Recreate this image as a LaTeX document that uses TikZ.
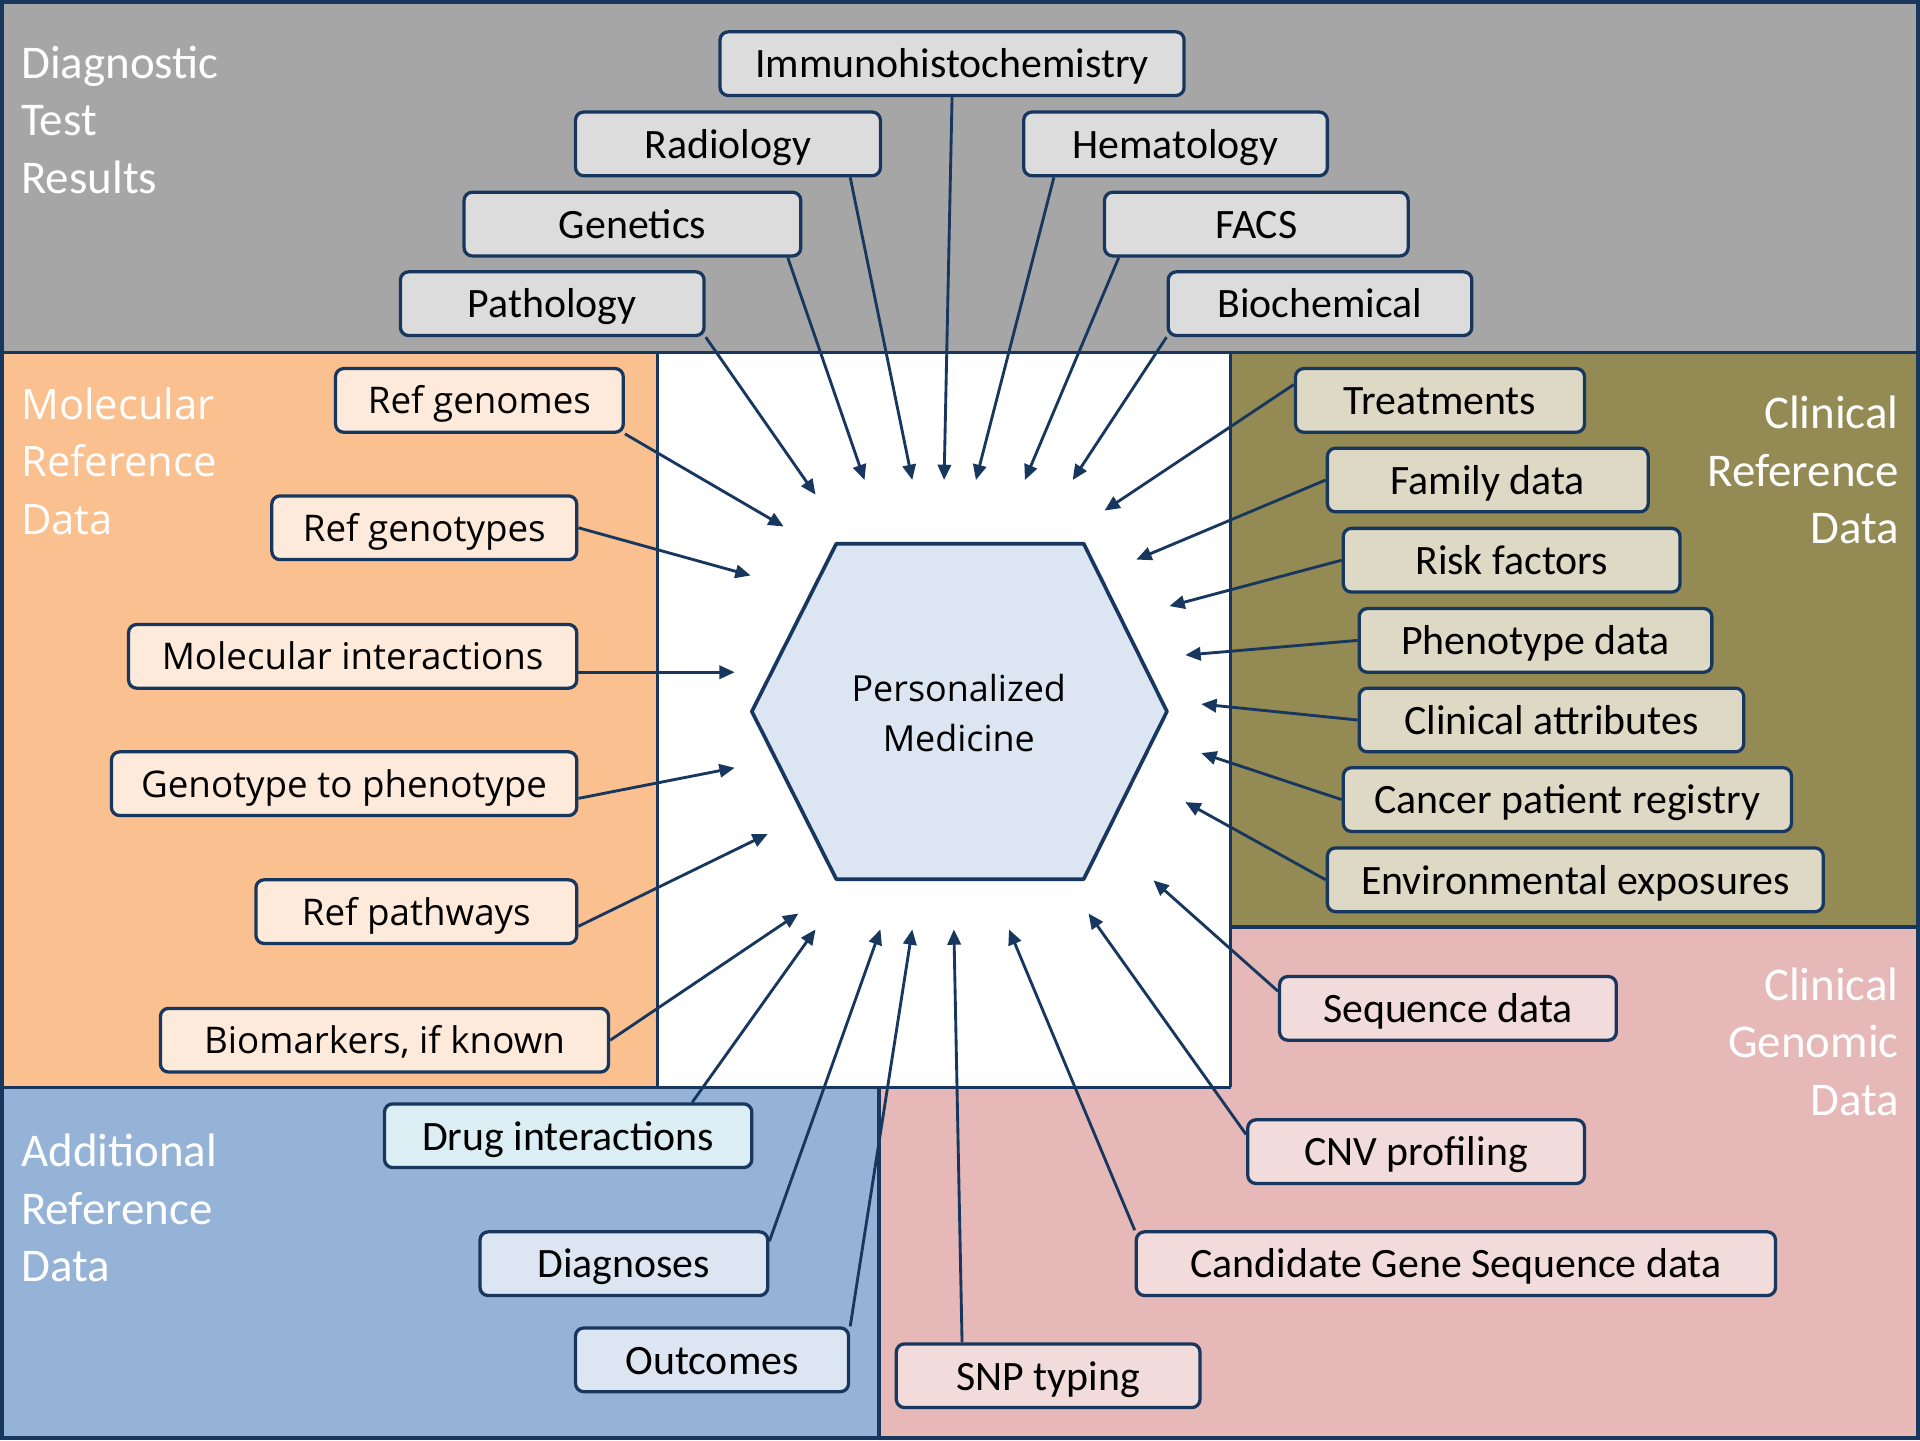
\documentclass[tikz,border=0pt]{standalone}
\usepackage{fontspec}
\setmainfont{Carlito}
\newfontfamily\osans{Open Sans}
\usetikzlibrary{arrows.meta,calc}
\definecolor{navy}{RGB}{23,55,94}
\definecolor{greyreg}{RGB}{166,166,166}
\definecolor{greybox}{RGB}{220,220,220}
\definecolor{orangereg}{RGB}{250,192,144}
\definecolor{orangebox}{RGB}{253,234,218}
\definecolor{olivereg}{RGB}{148,138,84}
\definecolor{olivebox}{RGB}{221,217,196}
\definecolor{pinkreg}{RGB}{230,184,183}
\definecolor{pinkbox}{RGB}{242,220,219}
\definecolor{bluereg}{RGB}{149,179,215}
\definecolor{bluebox}{RGB}{220,230,242}
\definecolor{cyanbox}{RGB}{219,238,244}
\definecolor{hexfill}{RGB}{220,230,242}
\begin{document}
\begin{tikzpicture}[x=0.6pt,y=-0.6pt,
  box/.style={draw=navy,line width=1.6pt,rounded corners=4pt,inner sep=0pt,
    minimum height=31.2pt,text height=16pt,text depth=2pt,font=\fontsize{20.5}{24}\selectfont},
  wd/.style={minimum width=#1*0.6pt},
  gbox/.style={box,fill=greybox},
  obox/.style={box,fill=orangebox,text height=15.2pt,text depth=2pt,font=\osans\fontsize{18}{22}\selectfont},
  lbox/.style={box,fill=olivebox},
  pbox/.style={box,fill=pinkbox},
  bbox/.style={box,fill=bluebox},
  arr/.style={draw=navy,line width=1.4pt,-{Triangle[length=7.5pt,width=6.5pt]}},
  region/.style={draw=navy,line width=1.8pt},
  rlabel/.style={text=white,inner sep=0pt,font=\fontsize{23}{28.2}\selectfont}
]
\useasboundingbox (0,0) rectangle (1568,1176);
% regions
\fill[greyreg] (0,0) rectangle (1568,288);
\fill[orangereg] (0,288) rectangle (537,888);
\fill[white] (537,288) rectangle (1005,888);
\fill[olivereg] (1005,288) rectangle (1568,757);
\fill[pinkreg] (1005,757) -- (1568,757) -- (1568,1176) -- (718,1176) -- (718,888) -- (1005,888) -- cycle;
\fill[bluereg] (0,888) rectangle (718,1176);
\draw[region] (1.5,1.5) rectangle (1566.5,1174.5);
\draw[region] (0,288) -- (1568,288);
\draw[region] (537,288) -- (537,888);
\draw[region] (1005,288) -- (1005,888);
\draw[region] (0,888) -- (1005,888);
\draw[region] (1005,757) -- (1568,757);
\draw[region] (718,888) -- (718,1176);
% region labels
\node[rlabel,align=left,anchor=north west] (labD) at (17,37) {Diagnostic\\Test\\Results};
\node[rlabel,align=left,anchor=north west,font=\osans\fontsize{20.5}{28.2}\selectfont] (labM) at (17,316) {Molecular\\Reference\\Data};
\node[rlabel,align=right,anchor=north east] (labC) at (1551,323) {Clinical\\Reference\\Data};
\node[rlabel,align=right,anchor=north east] (labG) at (1551,790) {Clinical\\Genomic\\Data};
\node[rlabel,align=left,anchor=north west] (labA) at (17,926) {Additional\\Reference\\Data};
% hexagon
\draw[navy,line width=1.8pt,fill=hexfill,line join=round]
  (683,444) -- (885,444) -- (953,581) -- (885,718) -- (683,718) -- (614,581) -- cycle;
\node[font=\osans\fontsize{17.6}{24.6}\selectfont,align=center] (pm) at (783,582) {Personalized\\Medicine};
% boxes: grey
\node[gbox,wd=379] (imm) at (777.5,52) {Immunohistochemistry};
\node[gbox,wd=249] (rad) at (594.5,117.5) {Radiology};
\node[gbox,wd=248] (hem) at (960,117.5) {Hematology};
\node[gbox,wd=275] (gen) at (516.5,183) {Genetics};
\node[gbox,wd=248] (facs) at (1026,183) {FACS};
\node[gbox,wd=248] (pat) at (451,248) {Pathology};
\node[gbox,wd=248] (bio) at (1078,248) {Biochemical};
% orange
\node[obox,wd=235] (rgen) at (391.5,327) {Ref genomes};
\node[obox,wd=249] (rgty) at (346.5,431) {Ref genotypes};
\node[obox,wd=366] (mol) at (288,536) {Molecular interactions};
\node[obox,wd=380] (g2p) at (281,640) {Genotype to phenotype};
\node[obox,wd=262] (rpw) at (340,744.5) {Ref pathways};
\node[obox,wd=366] (bmk) at (314,849.5) {Biomarkers, if known};
% olive
\node[lbox,wd=236] (trt) at (1176,327) {Treatments};
\node[lbox,wd=262] (fam) at (1215,392) {Family data};
\node[lbox,wd=275] (risk) at (1234.5,457.5) {Risk factors};
\node[lbox,wd=288] (phe) at (1254,523) {Phenotype data};
\node[lbox,wd=314] (cla) at (1267,588) {Clinical attributes};
\node[lbox,wd=366] (cpr) at (1280,653) {Cancer patient registry};
\node[lbox,wd=405] (env) at (1286.5,718.5) {Environmental exposures};
% pink
\node[pbox,wd=275] (seq) at (1182.5,823.5) {Sequence data};
\node[pbox,wd=275] (cnv) at (1156.5,940.5) {CNV profiling};
\node[pbox,wd=522] (cand) at (1189,1032) {Candidate Gene Sequence data};
\node[pbox,wd=248] (snp) at (856,1123.5) {SNP typing};
% blue
\node[box,fill=cyanbox,wd=300] (drug) at (464,927.5) {Drug interactions};
\node[bbox,wd=235] (dia) at (509.5,1032) {Diagnoses};
\node[bbox,wd=223] (out) at (581.5,1110.5) {Outcomes};
% arrow tips
\coordinate (tpat) at (666,404);
\coordinate (tgen) at (706,392);
\coordinate (trad) at (745,392);
\coordinate (timm) at (771,392);
\coordinate (them) at (797,392);
\coordinate (tfacs) at (837,392);
\coordinate (tbio) at (876,392);
\coordinate (trgen) at (640,430);
\coordinate (trgty) at (613,470);
\coordinate (tmol) at (600,549);
\coordinate (tg2p) at (600,627);
\coordinate (trpw) at (627,681);
\coordinate (tbmk) at (652,746);
\coordinate (ttrt) at (902,417);
\coordinate (tfam) at (928,457);
\coordinate (trisk) at (955,495);
\coordinate (tphe) at (968,535);
\coordinate (tcla) at (981,575);
\coordinate (tcpr) at (981,615);
\coordinate (tenv) at (968,655);
\coordinate (tseq) at (942,719);
\coordinate (tcnv) at (889,746);
\coordinate (tcand) at (824,759);
\coordinate (tsnp) at (779,759);
\coordinate (tdrug) at (666,759);
\coordinate (tdia) at (719,759);
\coordinate (tout) at (745,759);
% arrows
\draw[arr] (pat.south east) -- (tpat);
\draw[arr] ($(gen.south east)+(-12,0)$) -- (tgen);
\draw[arr] ($(rad.south east)+(-26,0)$) -- (trad);
\draw[arr] (imm.south) -- (timm);
\draw[arr] ($(hem.south west)+(26,0)$) -- (them);
\draw[arr] ($(facs.south west)+(13,0)$) -- (tfacs);
\draw[arr] (bio.south west) -- (tbio);
\draw[arr] (rgen.south east) -- (trgen);
\draw[arr] (rgty.east) -- (trgty);
\draw[arr] ($(mol.east)+(0,13)$) -- (tmol);
\draw[arr] ($(g2p.east)+(0,12)$) -- (tg2p);
\draw[arr] ($(rpw.east)+(0,12)$) -- (trpw);
\draw[arr] (bmk.east) -- (tbmk);
\draw[arr] ($(trt.west)+(0,-13)$) -- (ttrt);
\draw[arr] (fam.west) -- (tfam);
\draw[arr] (risk.west) -- (trisk);
\draw[arr] (phe.west) -- (tphe);
\draw[arr] (cla.west) -- (tcla);
\draw[arr] (cpr.west) -- (tcpr);
\draw[arr] (env.west) -- (tenv);
\draw[arr] ($(seq.west)+(0,-14)$) -- (tseq);
\draw[arr] ($(cnv.west)+(0,-14)$) -- (tcnv);
\draw[arr] (cand.north west) -- (tcand);
\draw[arr] ($(snp.north west)+(55,0)$) -- (tsnp);
\draw[arr] ($(drug.north east)+(-50,0)$) -- (tdrug);
\draw[arr] ($(dia.north east)+(0,9)$) -- (tdia);
\draw[arr] (out.north east) -- (tout);
\end{tikzpicture}
\end{document}
